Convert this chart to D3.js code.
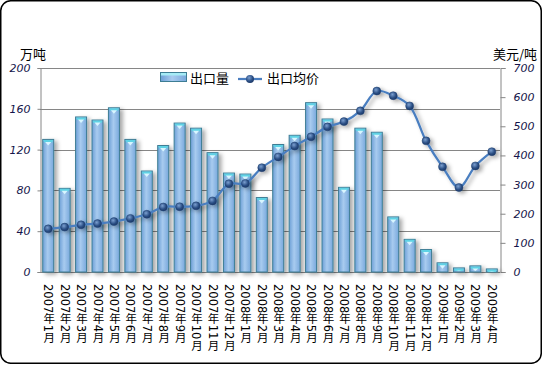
<!DOCTYPE html>
<html><head><meta charset="utf-8">
<script src="https://cdn.jsdelivr.net/npm/d3@7"></script>
<style>html,body{margin:0;padding:0;background:#fff;}svg{display:block;}</style>
</head><body>
<svg id="c" width="542" height="367"></svg>
<script>
const categories = ["2007年1月","2007年2月","2007年3月","2007年4月","2007年5月","2007年6月","2007年7月","2007年8月","2007年9月","2007年10月","2007年11月","2007年12月",
"2008年1月","2008年2月","2008年3月","2008年4月","2008年5月","2008年6月","2008年7月","2008年8月","2008年9月","2008年10月","2008年11月","2008年12月",
"2009年1月","2009年2月","2009年3月","2009年4月"];
const exportVolume = [130,82,152,149,161,130,99,124,146,141,117,97,96,73,125,134,166,150,83,141,137,54,32,22,9,4,6,3];
const avgPrice = [148,154,162,166,173,184,198,223,224,227,244,303,304,358,395,432,464,498,516,553,621,605,570,450,361,290,364,413];
const leftTicks = [0,40,80,120,160,200];
const rightTicks = [0,100,200,300,400,500,600,700];
const seriesNames = ["出口量","出口均价"];
const leftTitle = "万吨", rightTitle = "美元/吨";

const svg = d3.select("#c");
const L = 40, R = 500, T = 68, B = 272;
const x = d3.scaleBand().domain(categories).range([L, R]).paddingInner(0.33).paddingOuter(0.165);
const yL = d3.scaleLinear().domain([0,200]).range([B, T]);
const yR = d3.scaleLinear().domain([0,700]).range([B, T]);

const defs = svg.append("defs");
const bg = defs.append("linearGradient").attr("id","barg").attr("x1","0").attr("x2","1").attr("y1","0").attr("y2","0");
bg.append("stop").attr("offset","0").attr("stop-color","#6c9fd6");
bg.append("stop").attr("offset","0.45").attr("stop-color","#a8cbef");
bg.append("stop").attr("offset","1").attr("stop-color","#78a8dc");
const rg = defs.append("radialGradient").attr("id","mk").attr("cx","0.4").attr("cy","0.35").attr("r","0.7");
rg.append("stop").attr("offset","0").attr("stop-color","#7b9fd0");
rg.append("stop").attr("offset","0.6").attr("stop-color","#2b4f85");
rg.append("stop").attr("offset","1").attr("stop-color","#1a3563");
const f = defs.append("filter").attr("id","sh").attr("x","-30%").attr("y","-30%").attr("width","160%").attr("height","160%");
f.append("feDropShadow").attr("dx",3).attr("dy",2).attr("stdDeviation",2).attr("flood-color","#000").attr("flood-opacity",0.35);

// border
svg.append("rect").attr("x",0.75).attr("y",0.75).attr("width",540.5).attr("height",362.5).attr("rx",10)
  .attr("fill","#fff").attr("stroke","#000").attr("stroke-width",1.5);

// gridlines
svg.append("g").selectAll("line").data(leftTicks).join("line")
  .attr("x1",L).attr("x2",R).attr("y1",d=>Math.round(yL(d))+0.5).attr("y2",d=>Math.round(yL(d))+0.5)
  .attr("stroke","#868686").attr("stroke-width",1);

// axes
const axL = svg.append("g").attr("transform",`translate(${L+0.5},0)`)
  .call(d3.axisLeft(yL).tickValues(leftTicks).tickSize(3).tickPadding(7));
const axR = svg.append("g").attr("transform",`translate(${R+0.5},0)`)
  .call(d3.axisRight(yR).tickValues(rightTicks).tickSize(5).tickPadding(8));
[axL,axR].forEach(a=>{
  a.select(".domain").attr("stroke","#868686");
  a.selectAll(".tick line").attr("stroke","#868686");
  a.selectAll(".tick text").attr("font-family","DejaVu Sans").attr("font-style","italic")
    .attr("font-size",11).attr("fill","#14144a");
});
svg.append("line").attr("x1",L).attr("x2",R).attr("y1",B+0.5).attr("y2",B+0.5).attr("stroke","#868686");

// bars
const bars = svg.append("g").attr("filter","url(#sh)");
const bw = x.bandwidth();
const bar = bars.selectAll("g").data(exportVolume).join("g");
bar.append("rect").attr("x",(d,i)=>x(categories[i])).attr("y",d=>yL(d)).attr("width",bw).attr("height",d=>B-yL(d))
  .attr("fill","url(#barg)").attr("stroke","#3d7d94").attr("stroke-width",1);
bar.append("polygon").attr("points",(d,i)=>{const x0=x(categories[i]),y0=yL(d);
  return `${x0+0.5},${y0+0.5} ${x0+bw-0.5},${y0+0.5} ${x0+bw-1.5},${y0+3} ${x0+1.5},${y0+3}`;})
  .attr("fill","#5ed2e4");
bar.append("polygon").attr("points",(d,i)=>{const x0=x(categories[i]),y0=yL(d);
  return `${x0+2.5},${y0+2.5} ${x0+bw-2.5},${y0+2.5} ${x0+bw/2},${y0+Math.min(6,Math.max(2,B-y0-1))}`;})
  .attr("fill","#d8f6ff");

// line
const cx = i => x(categories[i]) + bw/2;
const lineGen = d3.line().x((d,i)=>cx(i)).y(d=>yR(d)).curve(d3.curveCatmullRom.alpha(0.5));
const lg = svg.append("g").attr("filter","url(#sh)");
lg.append("path").datum(avgPrice).attr("d",lineGen).attr("fill","none").attr("stroke","#4a7ec0").attr("stroke-width",2.25);
lg.selectAll("circle").data(avgPrice).join("circle").attr("cx",(d,i)=>cx(i)).attr("cy",d=>yR(d)).attr("r",4)
  .attr("fill","url(#mk)").attr("stroke","#1f3f6e").attr("stroke-width",0.5);

// x labels
svg.append("g").selectAll("text").data(categories).join("text")
  .attr("x",(d,i)=>cx(i)).attr("y",284)
  .style("writing-mode","vertical-rl")
  .attr("font-family","DejaVu Sans, 'Noto Sans CJK SC'").attr("font-size",11.5).attr("fill","#000")
  .text(d=>d);

// axis titles
svg.append("text").attr("x",33).attr("y",59).attr("text-anchor","middle").attr("font-family","'Noto Sans CJK SC'")
  .attr("font-size",13).text(leftTitle);
svg.append("text").attr("x",515).attr("y",59).attr("text-anchor","middle").attr("font-family","'Noto Sans CJK SC'")
  .attr("font-size",13).text(rightTitle);

// legend
const lgd = svg.append("g");
lgd.append("rect").attr("x",160.5).attr("y",72.5).attr("width",26).attr("height",9).attr("fill","url(#barg)").attr("stroke","#3d7d94");
lgd.append("rect").attr("x",161).attr("y",73).attr("width",25).attr("height",2.5).attr("fill","#a6ecf6");
lgd.append("text").attr("x",190).attr("y",83).attr("font-family","'Noto Sans CJK SC'").attr("font-size",13).text(seriesNames[0]);
lgd.append("line").attr("x1",238).attr("x2",262).attr("y1",79).attr("y2",79).attr("stroke","#4a7ec0").attr("stroke-width",2.25);
lgd.append("circle").attr("cx",250).attr("cy",79).attr("r",4).attr("fill","url(#mk)");
lgd.append("text").attr("x",267).attr("y",83).attr("font-family","'Noto Sans CJK SC'").attr("font-size",13).text(seriesNames[1]);
</script>
</body></html>
